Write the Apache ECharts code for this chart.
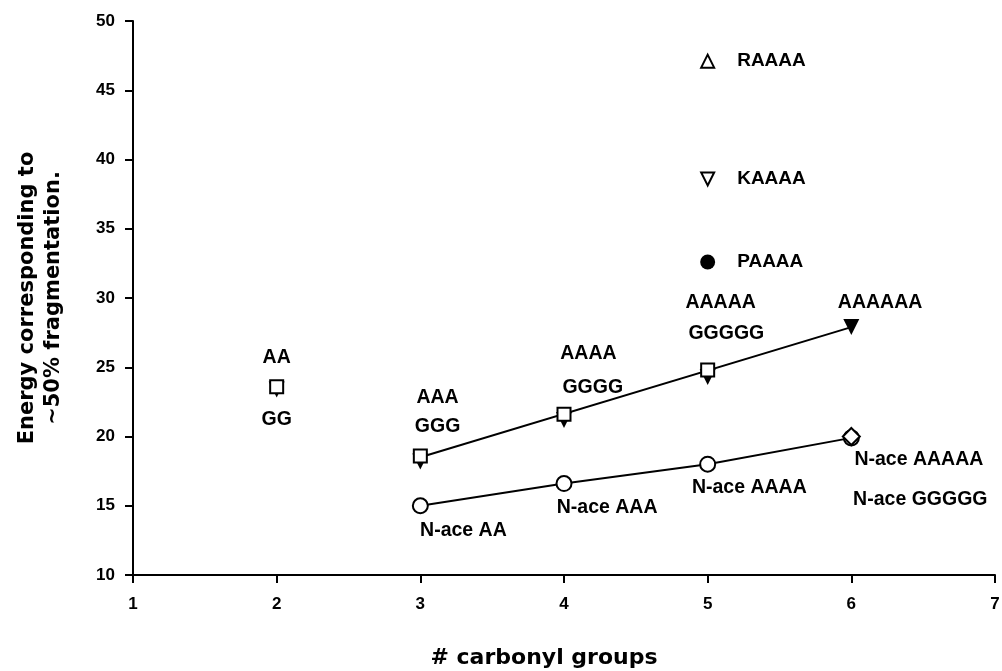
<!DOCTYPE html>
<html><head><meta charset="utf-8">
<script src="https://cdn.jsdelivr.net/npm/echarts@6/dist/echarts.min.js"></script>
<style>html,body{margin:0;padding:0;background:#fff}#c{width:1002px;height:671px}</style>
</head><body><div id="c"></div>
<script>
// ---- data ----
const polyAX = [2, 3, 4, 5, 6];
const polyA  = [23.4, 18.2, 21.2, 24.3, 27.9];      // filled down-triangles (AA ... AAAAAA)
const polyGX = [2, 3, 4, 5];
const polyG  = [23.6, 18.6, 21.6, 24.8];            // open squares (GG ... GGGGG)
const nAceAX = [3, 4, 5, 6];
const nAceA  = [15.0, 16.6, 18.0, 19.9];            // open circles (N-ace)
const nAceGX = [6];
const nAceG  = [20.0];                              // open diamond
const upperLineX = [3, 6];
const upperLine  = [18.5, 27.9];                    // line through AA/GG series
const otherNames = ['RAAAA', 'KAAAA', 'PAAAA'];
const otherX     = [5, 5, 5];
const otherY     = [47.1, 38.6, 32.6];
const annText = ['AA','GG','AAA','GGG','AAAA','GGGG','AAAAA','GGGGG','AAAAAA',
                 'N-ace AA','N-ace AAA','N-ace AAAA','N-ace AAAAA','N-ace GGGGG'];
const annX = [2.0, 2.0, 3.12, 3.12, 4.17, 4.2, 5.09, 5.13, 6.2, 3.3, 4.30, 5.29, 6.47, 6.48];
const annY = [25.7, 21.2, 22.8, 20.7, 26.0, 23.5, 29.7, 27.4, 29.7, 13.2, 14.9, 16.3, 18.3, 15.45];

const FONT = 'Liberation Sans, Arial, sans-serif';
const pair = (xs, ys) => xs.map((x, i) => [x, ys[i]]);
const openStyle = {color: '#fff', borderColor: '#000', borderWidth: 2, opacity: 1};
const txt = (size) => ({fontFamily: FONT, fontWeight: 'bold', fontSize: size, color: '#000'});

const chart = echarts.init(document.getElementById('c'), null, {renderer: 'canvas'});
chart.setOption({
  animation: false,
  backgroundColor: '#fff',
  grid: {left: 133, right: 7, top: 21, bottom: 96, containLabel: false, outerBoundsMode: 'none'},
  xAxis: {
    type: 'value', min: 1, max: 7, interval: 1,
    name: '# carbonyl groups', nameLocation: 'middle', nameGap: 72,
    nameTextStyle: {fontFamily: 'DejaVu Sans', fontWeight: 'bold', fontSize: 22, color: '#000', padding: [0, 40, 0, 0]},
    axisLine: {show: true, lineStyle: {color: '#000', width: 2}},
    axisTick: {show: true, length: 8, lineStyle: {color: '#000', width: 2}},
    axisLabel: Object.assign(txt(17), {margin: 21}),
    splitLine: {show: false}
  },
  yAxis: {
    type: 'value', min: 10, max: 50, interval: 5,
    name: 'Energy corresponding to\n~50% fragmentation.', nameLocation: 'middle', nameRotate: 90, nameGap: 66,
    nameTextStyle: {fontFamily: 'DejaVu Sans', fontWeight: 'bold', fontSize: 21, color: '#000', lineHeight: 26},
    axisLine: {show: true, lineStyle: {color: '#000', width: 2}},
    axisTick: {show: true, length: 8, lineStyle: {color: '#000', width: 2}},
    axisLabel: Object.assign(txt(17), {margin: 18}),
    splitLine: {show: false}
  },
  series: [
    {type: 'line', data: pair(upperLineX, upperLine), symbol: 'none', silent: true,
     lineStyle: {color: '#000', width: 2}, z: 2},
    {type: 'line', data: pair(nAceAX, nAceA), symbol: 'circle', symbolSize: 15, silent: true,
     lineStyle: {color: '#000', width: 2}, itemStyle: openStyle, z: 3},
    {type: 'scatter', data: pair(nAceGX, nAceG), symbol: 'diamond', symbolSize: 17, itemStyle: openStyle, z: 4},
    {type: 'scatter', data: pair(polyAX, polyA), symbol: 'triangle', symbolRotate: 180, symbolSize: 16,
     itemStyle: {color: '#000', opacity: 1}, z: 4},
    {type: 'scatter', data: pair(polyGX, polyG), symbol: 'rect', symbolSize: 13, itemStyle: openStyle, z: 5},
    {type: 'scatter', symbol: 'triangle', symbolSize: 13, itemStyle: openStyle, z: 5,
     data: [{name: otherNames[0], value: [otherX[0], otherY[0]]}],
     label: Object.assign(txt(19), {show: true, position: 'right', distance: 22, formatter: '{b}'})},
    {type: 'scatter', symbol: 'triangle', symbolRotate: 180, symbolSize: 13, itemStyle: openStyle, z: 5,
     data: [{name: otherNames[1], value: [otherX[1], otherY[1]]}],
     label: Object.assign(txt(19), {show: true, position: 'right', distance: 22, formatter: '{b}'})},
    {type: 'scatter', symbol: 'circle', symbolSize: 15, itemStyle: {color: '#000', opacity: 1}, z: 5,
     data: [{name: otherNames[2], value: [otherX[2], otherY[2]]}],
     label: Object.assign(txt(19), {show: true, position: 'right', distance: 22, formatter: '{b}'})},
    {type: 'scatter', silent: true, symbolSize: 1, itemStyle: {color: 'rgba(255,255,255,0)', opacity: 1}, z: 6,
     data: annText.map((t, i) => ({name: t, value: [annX[i], annY[i]]})),
     label: Object.assign(txt(19.5), {show: true, position: 'inside', formatter: '{b}'})}
  ]
});
</script></body></html>
